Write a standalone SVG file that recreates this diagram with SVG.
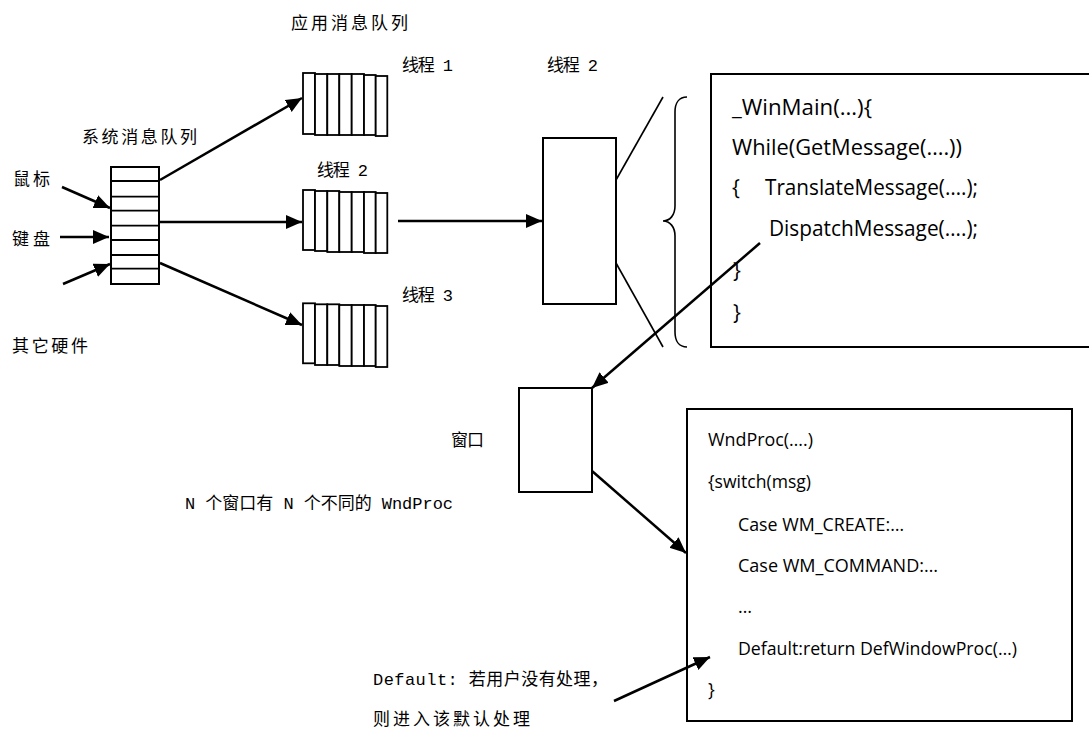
<svg xmlns="http://www.w3.org/2000/svg" width="1089" height="731" viewBox="0 0 1089 731">
<style>
.box{fill:#fff;stroke:#000;stroke-width:2}
.cell{fill:#fff;stroke:#000;stroke-width:1.8}
.arr{fill:none;stroke:#000;stroke-width:2.5;marker-end:url(#ah)}
.thin{fill:none;stroke:#000;stroke-width:1.6}
.cjk{font-family:"Liberation Mono","Noto Sans CJK SC",monospace;font-size:17px;fill:#000}
.code1{font-family:"Open Sans","Liberation Sans",sans-serif;font-size:21px;fill:#000}
.code2{font-family:"Open Sans","Liberation Sans",sans-serif;font-size:18px;fill:#000}
</style>
<defs>
<marker id="ah" markerUnits="userSpaceOnUse" markerWidth="18" markerHeight="16" refX="16" refY="7" orient="auto">
<path d="M0,0 L16,7 L0,14 z" fill="#000"/>
</marker>
</defs>
<rect width="1089" height="731" fill="#fff"/>

<g id="labels">
<text class="cjk" x="291" y="29" textLength="117" lengthAdjust="spacing">应用消息队列</text>
<text class="cjk" x="82" y="143" textLength="115" lengthAdjust="spacing">系统消息队列</text>
<text class="cjk" x="13" y="185" textLength="37" lengthAdjust="spacing">鼠标</text>
<text class="cjk" x="12" y="245" textLength="38" lengthAdjust="spacing">键盘</text>
<text class="cjk" x="12" y="352" textLength="76" lengthAdjust="spacing">其它硬件</text>
<text class="cjk" x="402" y="71" textLength="51" lengthAdjust="spacing">线程 1</text>
<text class="cjk" x="547" y="71" textLength="51" lengthAdjust="spacing">线程 2</text>
<text class="cjk" x="317" y="176" textLength="51" lengthAdjust="spacing">线程 2</text>
<text class="cjk" x="402" y="301" textLength="51" lengthAdjust="spacing">线程 3</text>
<text class="cjk" x="451" y="446" textLength="33" lengthAdjust="spacing">窗口</text>
<text class="cjk" x="185" y="509" textLength="268" lengthAdjust="spacing">N 个窗口有 N 个不同的 WndProc</text>
<text class="cjk" x="373" y="685" textLength="235" lengthAdjust="spacing">Default: 若用户没有处理，</text>
<text class="cjk" x="373" y="725" textLength="157" lengthAdjust="spacing">则进入该默认处理</text>
</g>

<g id="system-queue">
<rect class="box" x="111" y="167" width="48" height="117"/>
<path class="thin" d="M111,181H159M111,196.7H159M111,210.7H159M111,225.7H159M111,240H159M111,255H159M111,268.7H159" style="stroke-width:1.8"/>
</g>

<g id="thread1-queue">
<rect class="cell" x="303" y="73" width="12" height="61"/>
<rect class="cell" x="315" y="74" width="12.3" height="61"/>
<rect class="cell" x="327.3" y="74" width="12" height="61"/>
<rect class="cell" x="339.3" y="74" width="12.4" height="61"/>
<rect class="cell" x="351.7" y="74" width="12.3" height="61"/>
<rect class="cell" x="364" y="75" width="11.7" height="60"/>
<rect class="cell" x="375.7" y="76" width="11.6" height="60"/>
</g>

<g id="thread2-queue">
<rect class="cell" x="303" y="190" width="12" height="60"/>
<rect class="cell" x="315" y="191" width="12.3" height="60"/>
<rect class="cell" x="327.3" y="191" width="12" height="61"/>
<rect class="cell" x="339.3" y="192" width="12.4" height="60"/>
<rect class="cell" x="351.7" y="192" width="12.3" height="60"/>
<rect class="cell" x="364" y="192" width="11.7" height="61"/>
<rect class="cell" x="375.7" y="193" width="11.6" height="60"/>
</g>

<g id="thread3-queue">
<rect class="cell" x="303" y="303.3" width="12" height="60"/>
<rect class="cell" x="315" y="304.3" width="12.3" height="60.7"/>
<rect class="cell" x="327.3" y="304.3" width="12" height="60.7"/>
<rect class="cell" x="339.3" y="305" width="12.4" height="61"/>
<rect class="cell" x="351.7" y="305" width="12.3" height="61"/>
<rect class="cell" x="364" y="305" width="11.7" height="61"/>
<rect class="cell" x="375.7" y="306" width="11.6" height="61"/>
</g>

<g id="thread-box">
<rect class="box" x="543" y="138" width="73" height="166"/>
</g>

<g id="window-box">
<rect class="box" x="519" y="388" width="73" height="104"/>
</g>

<g id="winmain-box">
<rect class="box" x="711" y="74" width="400" height="273"/>
<text class="code1" x="732" y="115" textLength="140" lengthAdjust="spacingAndGlyphs">_WinMain(…){</text>
<text class="code1" x="732" y="155" textLength="230" lengthAdjust="spacingAndGlyphs">While(GetMessage(….))</text>
<text class="code1" x="732" y="195">{</text>
<text class="code1" x="765" y="195" textLength="213" lengthAdjust="spacingAndGlyphs">TranslateMessage(….);</text>
<text class="code1" x="769" y="236" textLength="209" lengthAdjust="spacingAndGlyphs">DispatchMessage(….);</text>
<text class="code1" x="733" y="278">}</text>
<text class="code1" x="733" y="320">}</text>
</g>

<g id="wndproc-box">
<rect class="box" x="687" y="409" width="385" height="312"/>
<text class="code2" x="708" y="446" textLength="105" lengthAdjust="spacingAndGlyphs">WndProc(….)</text>
<text class="code2" x="708" y="488" textLength="103" lengthAdjust="spacingAndGlyphs">{switch(msg)</text>
<text class="code2" x="738" y="531" textLength="166" lengthAdjust="spacingAndGlyphs">Case WM_CREATE:…</text>
<text class="code2" x="738" y="572" textLength="200" lengthAdjust="spacingAndGlyphs">Case WM_COMMAND:…</text>
<text class="code2" x="738" y="613">…</text>
<text class="code2" x="738" y="655" textLength="279" lengthAdjust="spacingAndGlyphs">Default:return DefWindowProc(…)</text>
<text class="code2" x="708" y="696">}</text>
</g>

<g id="connectors">
<line class="arr" x1="62" y1="187" x2="110" y2="208"/>
<line class="arr" x1="60" y1="237" x2="109" y2="237"/>
<line class="arr" x1="63" y1="284" x2="110" y2="264"/>
<line class="arr" x1="160" y1="180" x2="302" y2="98"/>
<line class="arr" x1="160" y1="222" x2="302" y2="222"/>
<line class="arr" x1="160" y1="263" x2="302" y2="325"/>
<line class="arr" x1="398" y1="221" x2="542" y2="221"/>
<line class="thin" x1="616" y1="180" x2="663" y2="97"/>
<line class="thin" x1="616" y1="263" x2="663" y2="347"/>
<path class="thin" d="M687,97 C679,97 675,103 675,112 L675,206 C675,215 670,221 663,221 C670,221 675,227 675,236 L675,332 C675,341 679,347 687,347"/>
<line class="arr" x1="760" y1="243" x2="592" y2="388"/>
<line class="arr" x1="592" y1="471" x2="686" y2="553"/>
<line class="arr" x1="614" y1="701" x2="710" y2="657"/>
</g>
</svg>
